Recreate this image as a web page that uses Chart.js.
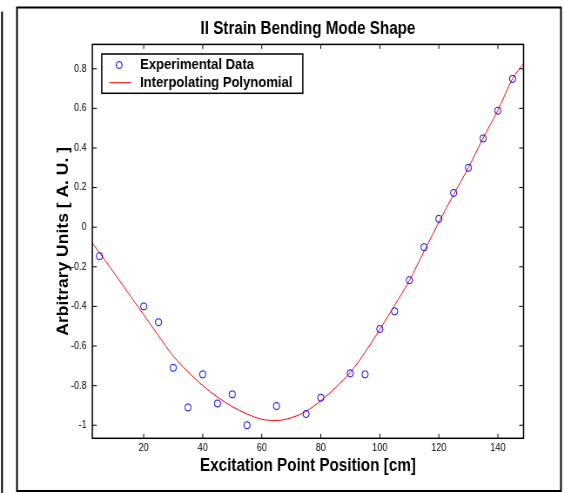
<!DOCTYPE html>
<html>
<head>
<meta charset="utf-8">
<script src="https://cdn.jsdelivr.net/npm/chart.js@4.4.0/dist/chart.umd.min.js"></script>
<style>
  body { margin: 0; background: #fff; }
</style>
</head>
<body>
<!-- drawn wider and squeezed back to 564px, the original figure is horizontally compressed -->
<canvas id="myChart" width="648" height="493" style="width:564px;height:493px;display:block"></canvas>
<script>
// experimental points
const expX = [5, 20, 25, 30, 35, 40, 45, 50, 55, 65, 75, 80, 90, 95, 100, 105, 110, 115, 120, 125, 130, 135, 140, 145];
const expY = [-0.146, -0.40, -0.48, -0.71, -0.91, -0.743, -0.89, -0.844, -1.0, -0.903, -0.943, -0.861, -0.738, -0.743, -0.514, -0.425, -0.268, -0.101, 0.042, 0.173, 0.30, 0.448, 0.588, 0.749];

// interpolating polynomial
const polyX = [2.6, 5, 10, 15, 20, 25, 30, 35, 40, 45, 50, 55, 60, 65, 70, 75, 80, 85, 90, 95, 100, 105, 110, 115, 120, 125, 130, 135, 140, 145, 148.7];
const polyY = [-0.08, -0.128, -0.232, -0.337, -0.442, -0.548, -0.65, -0.73, -0.80, -0.858, -0.906, -0.943, -0.970, -0.976, -0.962, -0.93, -0.876, -0.81, -0.733, -0.632, -0.516, -0.395, -0.27, -0.122, 0.025, 0.165, 0.30, 0.45, 0.59, 0.75, 0.825];

const xTicks = [20, 40, 60, 80, 100, 120, 140];
const yTicks = [-1, -0.8, -0.6, -0.4, -0.2, 0, 0.2, 0.4, 0.6, 0.8];

const FONT = "'Liberation Sans', Arial, sans-serif";

const frame = {
  id: "frame",
  afterDraw(chart) {
    const ctx = chart.ctx;
    const a = chart.chartArea;
    const xs = chart.scales.x;
    const ys = chart.scales.y;
    ctx.save();
    ctx.strokeStyle = "#000";

    // outer figure border + partial line at far left
    ctx.lineWidth = 2;
    ctx.strokeRect(19.5, 7.5, 625, 483.5);
    ctx.beginPath();
    ctx.moveTo(2.3, 11.5);
    ctx.lineTo(2.3, 493);
    ctx.stroke();

    // axes box
    ctx.lineWidth = 1.5;
    ctx.strokeRect(a.left, a.top, a.right - a.left, a.bottom - a.top);

    // inward ticks on all four sides
    ctx.lineWidth = 1;
    ctx.beginPath();
    xTicks.forEach((v) => {
      const px = xs.getPixelForValue(v);
      ctx.moveTo(px, a.bottom);
      ctx.lineTo(px, a.bottom - 4.5);
      ctx.moveTo(px, a.top);
      ctx.lineTo(px, a.top + 4.5);
    });
    yTicks.forEach((v) => {
      const py = ys.getPixelForValue(v);
      ctx.moveTo(a.left, py);
      ctx.lineTo(a.left + 5, py);
      ctx.moveTo(a.right, py);
      ctx.lineTo(a.right - 5, py);
    });
    ctx.stroke();

    // legend box
    const lx = a.left + 10.8;
    const ly = a.top + 9.6;
    ctx.fillStyle = "#fff";
    ctx.fillRect(lx, ly, 231, 39.3);
    ctx.lineWidth = 1.5;
    ctx.strokeRect(lx, ly, 231, 39.3);

    const ds = chart.data.datasets;
    ctx.lineWidth = 1;
    ctx.strokeStyle = ds[0].borderColor;
    ctx.beginPath();
    ctx.arc(lx + 19.9, ly + 11, 3.5, 0, Math.PI * 2);
    ctx.stroke();
    ctx.strokeStyle = ds[1].borderColor;
    ctx.beginPath();
    ctx.moveTo(lx + 8.4, ly + 28.7);
    ctx.lineTo(lx + 33.7, ly + 28.7);
    ctx.stroke();

    ctx.fillStyle = "#000";
    ctx.font = "bold 15px " + FONT;
    ctx.textBaseline = "middle";
    ctx.textAlign = "left";
    ctx.fillText(ds[0].label, lx + 44, ly + 11);
    ctx.fillText(ds[1].label, lx + 44, ly + 28.7);
    ctx.restore();
  },
};

const ctx = document.getElementById("myChart");
new Chart(ctx, {
  type: "scatter",
  data: {
    datasets: [
      {
        label: "Experimental Data",
        data: expX.map((x, i) => ({ x: x, y: expY[i] })),
        borderColor: "#0000ff",
        backgroundColor: "rgba(0,0,0,0)",
        borderWidth: 1,
        pointRadius: 3.6,
        showLine: false,
        order: 0,
      },
      {
        label: "Interpolating Polynomial",
        data: polyX.map((x, i) => ({ x: x, y: polyY[i] })),
        borderColor: "#ff0000",
        borderWidth: 1,
        pointRadius: 0,
        showLine: true,
        cubicInterpolationMode: "monotone",
        order: 1,
      },
    ],
  },
  options: {
    responsive: false,
    devicePixelRatio: 1,
    animation: false,
    layout: {
      padding: { left: 20, right: 46.5, top: 0, bottom: 0 },
    },
    plugins: {
      legend: { display: false },
      tooltip: { enabled: false },
      title: {
        display: true,
        text: "II Strain Bending Mode Shape",
        color: "#000",
        fullSize: false,
        font: { family: FONT, size: 17.5, weight: "bold" },
        padding: { top: 18.5, bottom: 4.9 },
      },
    },
    scales: {
      x: {
        type: "linear",
        min: 2.6,
        max: 148.7,
        grid: { display: false, drawTicks: false },
        border: { display: false },
        afterBuildTicks: (scale) => {
          scale.ticks = xTicks.map((v) => ({ value: v }));
        },
        afterFit: (scale) => {
          scale.height = 54.7;
        },
        ticks: {
          color: "#000",
          padding: 4,
          font: { family: FONT, size: 10.5 },
          callback: (v) => String(v),
        },
        title: {
          display: true,
          text: "Excitation Point Position [cm]",
          color: "#000",
          font: { family: FONT, size: 17.5, weight: "bold" },
          padding: { top: 0, bottom: 16.5 },
        },
      },
      y: {
        type: "linear",
        min: -1.066,
        max: 0.923,
        grid: { display: false, drawTicks: false },
        border: { display: false },
        afterBuildTicks: (scale) => {
          scale.ticks = yTicks.map((v) => ({ value: v }));
        },
        afterFit: (scale) => {
          scale.width = 86.1;
        },
        ticks: {
          color: "#000",
          padding: 6.5,
          font: { family: FONT, size: 10.5 },
          callback: (v) => String(v),
        },
        title: {
          display: true,
          text: "Arbitrary Units [ A. U. ]",
          color: "#000",
          font: { family: FONT, size: 17.5, weight: "bold" },
          padding: { top: 43.1, bottom: 0 },
        },
      },
    },
  },
  plugins: [frame],
});
</script>
</body>
</html>
